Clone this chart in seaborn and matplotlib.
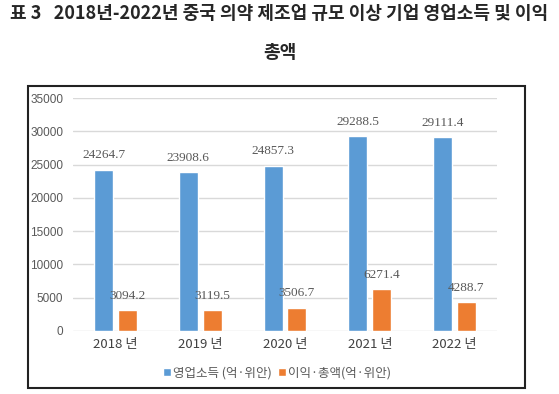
import numpy as np
import pandas as pd
import matplotlib
matplotlib.use('Agg')
import matplotlib.pyplot as plt
import seaborn as sns
from matplotlib.patches import Rectangle

years = ['2018 년', '2019 년', '2020 년', '2021 년', '2022 년']
revenue = [24264.7, 23908.6, 24857.3, 29288.5, 29111.4]
profit = [3094.2, 3119.5, 3506.7, 6271.4, 4288.7]
series_names = ['영업소득 (억·위안)', '이익·총액(억·위안)']
colors = ['#5B9BD5', '#ED7D31']

df = pd.DataFrame({
    'year': years * 2,
    'value': revenue + profit,
    'series': [series_names[0]] * len(years) + [series_names[1]] * len(years),
})

sns.set_style('white')
plt.rcParams['font.family'] = ['Noto Sans CJK KR', 'DejaVu Sans']

fig = plt.figure(figsize=(5.59, 3.94), dpi=100)
ax = fig.add_axes([0.1306, 0.160, 0.7584, 0.591])

sns.barplot(data=df, x='year', y='value', hue='series', palette=colors,
            saturation=1, width=0.56, gap=0.2, ax=ax, legend=True)

ax.set_ylim(0, 35000)
ax.set_xlim(-0.5, 4.5)
ax.set_yticks(np.arange(0, 35001, 5000))
ax.yaxis.grid(True, color='#D9D9D9', linewidth=1)
ax.set_axisbelow(True)
for s in ax.spines.values():
    s.set_visible(False)
ax.set_xlabel('')
ax.set_ylabel('')
ax.tick_params(axis='y', length=0, labelsize=8.5, labelcolor='#595959', pad=7)
ax.tick_params(axis='x', length=0, labelsize=9.5, labelcolor='#404040', pad=5)
for lbl in ax.get_yticklabels():
    lbl.set_family('Liberation Sans')

for cont, vals in zip(ax.containers, [revenue, profit]):
    ax.bar_label(cont, labels=[f'{v:.1f}' for v in vals], padding=6,
                 fontsize=9.5, color='#595959', family='Liberation Serif')

leg = ax.legend(loc='center', bbox_to_anchor=(0.496, 0.053),
                bbox_transform=fig.transFigure, ncol=2, frameon=False,
                fontsize=9, handlelength=0.6, handleheight=0.6,
                handletextpad=0.2, columnspacing=0.5)
for t in leg.get_texts():
    t.set_color('#595959')

fig.text(0.5, 0.965, '표 3   2018년-2022년 중국 의약 제조업 규모 이상 기업 영업소득 및 이익',
         ha='center', va='center', fontsize=13, fontweight='bold')
fig.text(0.5, 0.868, '총액', ha='center', va='center', fontsize=13,
         fontweight='bold')

fig.patches.append(Rectangle((28 / 559, 1 - 388 / 394), (525 - 28) / 559,
                             (388 - 86) / 394, transform=fig.transFigure,
                             fill=False, edgecolor='#222222', linewidth=1.5))

fig.savefig('out.png', dpi=100)
